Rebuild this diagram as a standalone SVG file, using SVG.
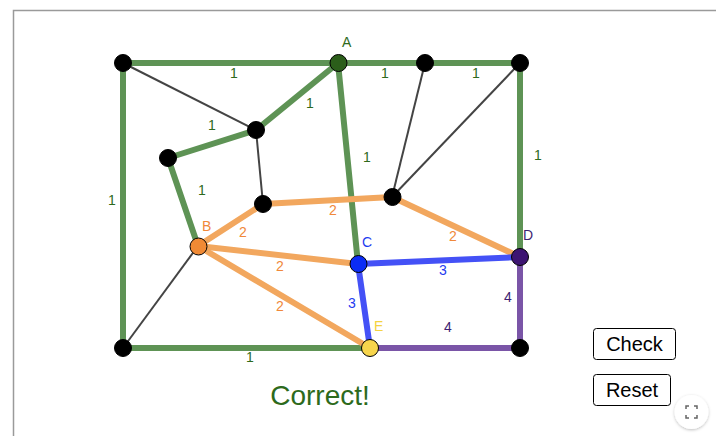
<svg xmlns="http://www.w3.org/2000/svg" width="716" height="436" viewBox="0 0 716 436">
<style>
text{font-family:"Liberation Sans",Arial,sans-serif}
.g{stroke:#5e9355;stroke-width:6;stroke-linecap:round}
.k{stroke:#444;stroke-width:2}
.o{stroke:#f2a75e;stroke-width:6;stroke-linecap:round}
.b{stroke:#4451f6;stroke-width:6;stroke-linecap:round}
.p{stroke:#7a55a7;stroke-width:6;stroke-linecap:round}
.w{font-size:14px;text-anchor:middle}
.wg{fill:#2f6a1c}.wo{fill:#f0883a}.wb{fill:#1e3cf0}.wp{fill:#3e1f72}
.n{stroke:#000;stroke-width:1}
.lb{font-size:14px}
.btn{fill:#fff;stroke:#000;stroke-width:1}
.bt{font-size:20px;text-anchor:middle;fill:#000}
</style>
<defs>
<filter id="sh" x="-30%" y="-30%" width="160%" height="160%"><feDropShadow dx="0" dy="1" stdDeviation="1.5" flood-color="#000" flood-opacity="0.25"/></filter>
</defs>
<rect width="716" height="436" fill="#fff"/>
<path d="M13.5 436V10.5H716" fill="none" stroke="#9a9a9a" stroke-width="1.5"/>
<g id="connectors">
<line class="k" x1="123" y1="63" x2="256" y2="130"/>
<line class="k" x1="256" y1="130" x2="263" y2="204"/>
<line class="k" x1="425" y1="63" x2="392" y2="197"/>
<line class="k" x1="520" y1="63" x2="392" y2="197"/>
<line class="k" x1="198" y1="246" x2="123" y2="348"/>
<line class="g" x1="123" y1="63" x2="338" y2="63"/>
<line class="g" x1="338" y1="63" x2="425" y2="63"/>
<line class="g" x1="425" y1="63" x2="520" y2="63"/>
<line class="g" x1="520" y1="63" x2="520" y2="257"/>
<line class="g" x1="123" y1="63" x2="123" y2="348"/>
<line class="g" x1="123" y1="348" x2="370" y2="348"/>
<line class="g" x1="338" y1="63" x2="256" y2="130"/>
<line class="g" x1="256" y1="130" x2="168" y2="158"/>
<line class="g" x1="168" y1="158" x2="198" y2="246"/>
<line class="g" x1="338" y1="63" x2="358" y2="264"/>
<line class="o" x1="198" y1="246" x2="263" y2="204"/>
<line class="o" x1="263" y1="204" x2="392" y2="197"/>
<line class="o" x1="392" y1="197" x2="520" y2="257"/>
<line class="o" x1="198" y1="246" x2="358" y2="264"/>
<line class="o" x1="198" y1="246" x2="370" y2="348"/>
<line class="b" x1="358" y1="264" x2="520" y2="257"/>
<line class="b" x1="358" y1="264" x2="370" y2="348"/>
<line class="p" x1="370" y1="348" x2="520" y2="348"/>
<line class="p" x1="520" y1="348" x2="520" y2="257"/>
</g>
<g id="weights">
<text class="w wg" x="234" y="78">1</text>
<text class="w wg" x="385" y="78">1</text>
<text class="w wg" x="476" y="78">1</text>
<text class="w wg" x="310" y="108">1</text>
<text class="w wg" x="212" y="130">1</text>
<text class="w wg" x="367" y="162">1</text>
<text class="w wg" x="538" y="160">1</text>
<text class="w wg" x="112" y="205">1</text>
<text class="w wg" x="202" y="195">1</text>
<text class="w wg" x="250" y="362">1</text>
<text class="w wo" x="243" y="237">2</text>
<text class="w wo" x="333" y="215">2</text>
<text class="w wo" x="453" y="241">2</text>
<text class="w wo" x="280" y="271">2</text>
<text class="w wo" x="280" y="311">2</text>
<text class="w wb" x="443" y="275">3</text>
<text class="w wb" x="352" y="308">3</text>
<text class="w wp" x="508" y="302">4</text>
<text class="w wp" x="448" y="332">4</text>
</g>
<g id="n-tl"><circle class="n" cx="123" cy="63" r="8.5" fill="#000"/></g>
<g id="n-a"><circle class="n" cx="338.5" cy="63" r="8.5" fill="#2b5e1a"/><text class="lb" x="342" y="47" fill="#2f6a1c">A</text></g>
<g id="n-t3"><circle class="n" cx="425" cy="63" r="8.5" fill="#000"/></g>
<g id="n-tr"><circle class="n" cx="520" cy="63" r="8.5" fill="#000"/></g>
<g id="n-m1"><circle class="n" cx="256" cy="130" r="8.5" fill="#000"/></g>
<g id="n-l1"><circle class="n" cx="168" cy="158" r="8.5" fill="#000"/></g>
<g id="n-m2"><circle class="n" cx="263" cy="204" r="8.5" fill="#000"/></g>
<g id="n-r1"><circle class="n" cx="392.5" cy="197" r="8.5" fill="#000"/></g>
<g id="n-b"><circle class="n" cx="198.5" cy="246.5" r="8.5" fill="#f08a35"/><text class="lb" x="202" y="231" fill="#f0883a">B</text></g>
<g id="n-c"><circle class="n" cx="358.5" cy="264" r="8.5" fill="#0b2cf5"/><text class="lb" x="362" y="247" fill="#1e3cf0">C</text></g>
<g id="n-d"><circle class="n" cx="520" cy="257" r="8.5" fill="#3d1472"/><text class="lb" x="523" y="240" fill="#3e1f72">D</text></g>
<g id="n-bl"><circle class="n" cx="123" cy="348" r="8.5" fill="#000"/></g>
<g id="n-e"><circle class="n" cx="370" cy="348" r="8.5" fill="#f7d54c"/><text class="lb" x="374" y="331" fill="#f5d340">E</text></g>
<g id="n-br"><circle class="n" cx="520" cy="348" r="8.5" fill="#000"/></g>
<text x="320" y="405" font-size="28" text-anchor="middle" fill="#2d6a1c">Correct!</text>
<g id="btn-check"><rect class="btn" x="593.5" y="328.5" width="82" height="31" rx="3"/><text class="bt" x="634.5" y="351">Check</text></g>
<g id="btn-reset"><rect class="btn" x="593.5" y="374.5" width="77" height="31" rx="3"/><text class="bt" x="632" y="397">Reset</text></g>
<g id="fullscreen"><circle cx="691.5" cy="412" r="17" fill="#fff" filter="url(#sh)"/>
<path d="M686 409v-3h3M694 406h3v3M697 415v3h-3M689 418h-3v-3" fill="none" stroke="#666" stroke-width="1.5"/></g>
</svg>
